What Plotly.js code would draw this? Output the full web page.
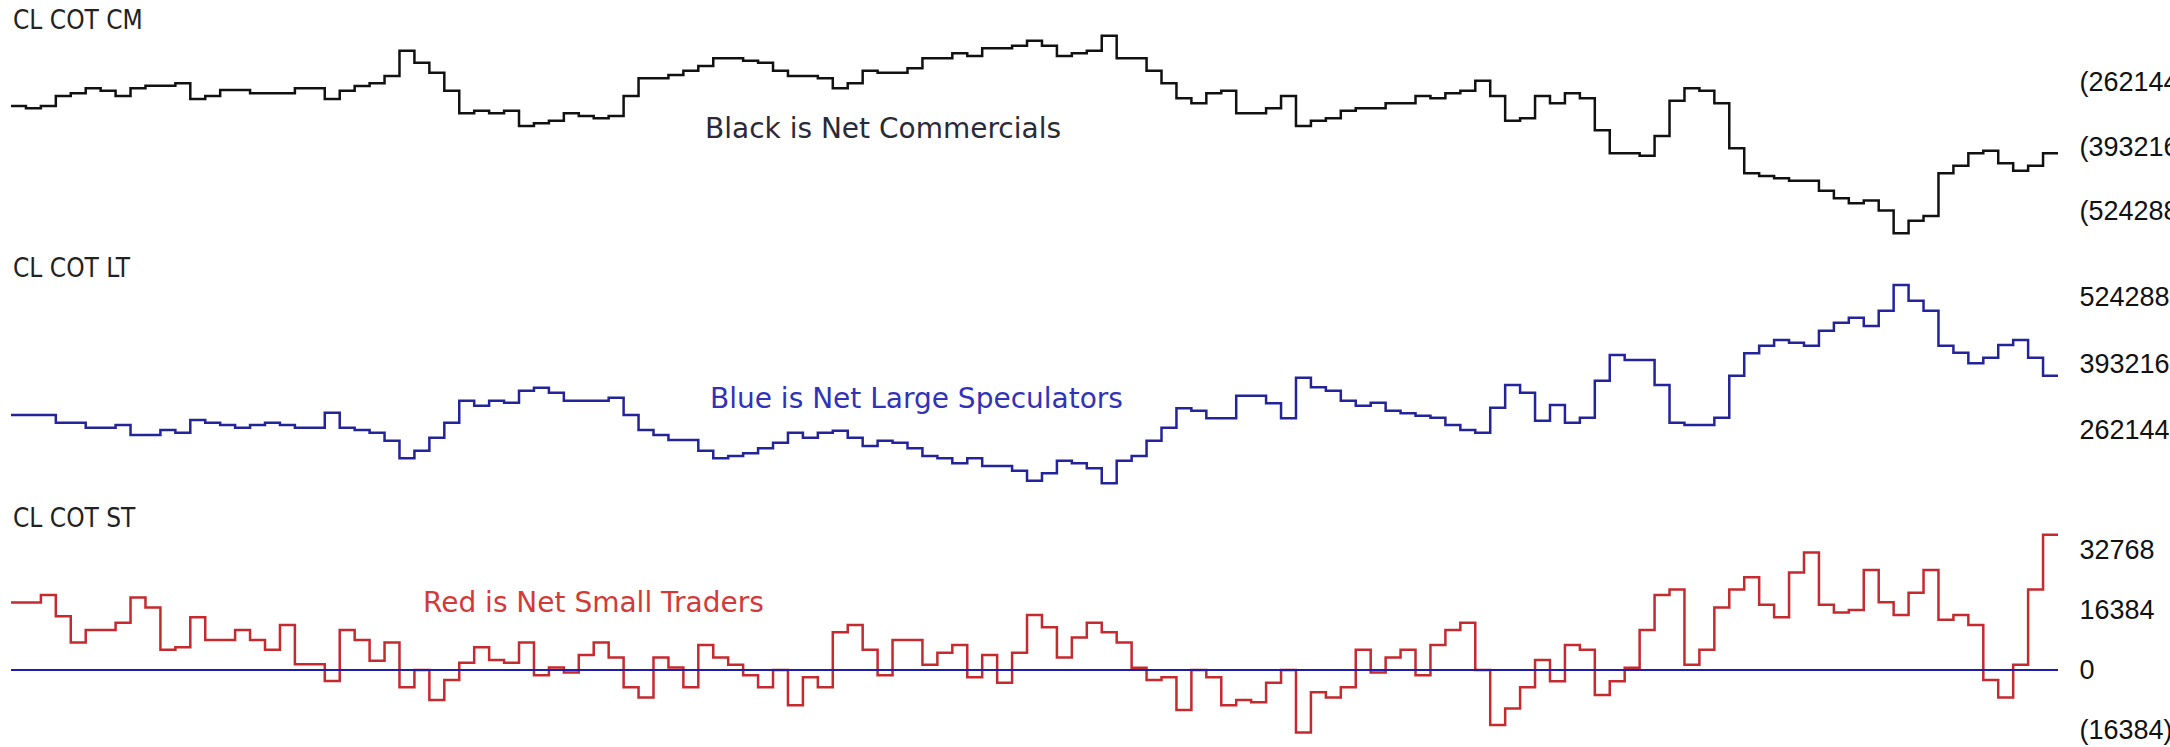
<!DOCTYPE html>
<html><head><meta charset="utf-8">
<script src="https://cdn.plot.ly/plotly-3.0.1.min.js"></script>
<style>html,body{margin:0;padding:0;background:#fff;} #chart{width:2170px;height:747px;}</style>
</head><body><div id="chart"></div>
<script>
// Weekly COT net positions, crude oil (CL)
const netCommercials = [
 -310900,-315600,-310900,-290600,-285100,-275000,-279700,-290600,-275000,-269600,
 -269600,-264800,-296700,-290600,-278400,-278400,-285100,-285100,-285100,-275000,
 -275000,-296700,-279700,-270300,-264800,-249900,-198500,-222800,-243200,-279700,
 -325800,-320400,-325800,-320400,-351500,-346100,-340700,-325800,-331200,-335900,
 -331200,-290600,-254700,-254700,-247900,-239100,-229600,-214000,-214000,-218800,
 -222800,-239100,-249900,-249900,-254700,-275000,-264800,-239100,-243200,-243200,
 -234300,-214000,-214000,-203900,-209300,-193700,-193700,-188300,-178100,-188300,
 -209300,-203900,-198500,-168000,-214000,-214000,-239100,-264800,-295300,-305500,
 -285100,-279700,-325800,-325800,-315600,-290600,-351500,-340700,-335900,-320400,
 -315600,-315600,-305500,-305500,-290600,-295300,-285100,-279700,-259400,-290600,
 -340700,-335900,-290600,-305500,-285100,-295300,-360300,-407100,-407100,-411800,
 -371800,-300000,-275000,-279700,-305500,-396900,-447700,-453100,-457900,-462600,
 -462600,-482900,-498500,-508700,-503200,-523500,-569600,-543900,-534400,-447700,
 -432100,-407100,-401600,-427400,-442300,-432100,-407100
];
const netLargeSpeculators = [
 291700,291700,291700,276600,276600,266700,266700,272000,252300,252300,
 262100,256900,281800,276600,272000,266700,272000,276600,272000,266700,
 266700,296300,266700,262100,256900,241100,206300,221400,247000,276600,
 319900,310100,319900,316000,339600,345600,335700,319900,319900,319900,
 325900,291700,262100,252300,242400,242400,221400,206300,210900,216100,
 226000,237200,256900,247000,256900,260800,247000,230600,241100,237200,
 226000,210900,206300,196400,206300,191200,191200,182000,162300,176700,
 201700,196400,186600,157000,201700,210900,241100,266700,304800,300200,
 285100,285100,329800,329800,314700,285100,365300,346200,339600,319900,
 310100,316000,300200,295000,290400,286400,272000,262100,256900,306100,
 350800,335700,280500,311400,276600,286400,359400,409900,400100,400100,
 350800,276600,272000,272000,286400,369200,413200,428300,439500,434300,
 428300,457900,473700,483500,467100,497300,547900,517000,497300,428300,
 414500,393500,404700,429700,439500,404700,369200
];
const netSmallTraders = [
 18400,18400,20500,14700,7500,10900,10900,12900,19800,17100,
 5500,6200,14400,8200,8200,10900,8200,5500,12300,1600,
 1600,-3000,10900,8200,2500,7500,-4700,0,-8200,-2700,
 2000,6200,2700,2000,7500,-1400,700,-700,4100,7500,
 3400,-4700,-7500,3400,700,-4700,6800,3400,1400,-1400,
 -4700,0,-9600,-2000,-4700,10300,12300,5500,-1400,8200,
 8200,1400,4700,6800,-2000,4100,-3500,4700,15000,11700,
 3400,8900,12900,10300,7500,600,-2700,-2000,-10900,0,
 -2000,-9600,-8200,-8800,-3500,0,-17100,-6100,-7500,-4700,
 5500,-700,3400,5500,-1400,6800,10900,12900,0,-15000,
 -10500,-4700,2700,-3100,6800,5500,-6800,-3100,600,10900,
 20500,22000,1400,5500,17100,22000,25300,17800,14400,26600,
 32100,17800,15700,16400,27300,18500,15000,21100,27300,13700,
 15000,12300,-2700,-7500,1400,22000,36900
];
const commercialTicks = [-262144, -393216, -524288];
const commercialTickText = ['(262144)', '(393216)', '(524288)'];
const largeSpecTicks = [524288, 393216, 262144];
const largeSpecTickText = ['524288', '393216', '262144'];
const smallTraderTicks = [32768, 16384, 0, -16384];
const smallTraderTickText = ['32768', '16384', '0', '(16384)'];
const panelTitles = ['CL COT CM', 'CL COT LT', 'CL COT ST'];
const seriesNotes = ['Black is Net Commercials', 'Blue is Net Large Speculators', 'Red is Net Small Traders'];

const W = 2170, H = 747, ML = 11, MR = 112;
const PW = W - ML - MR;
const n = netCommercials.length;
const weeks = Array.from({length: n + 1}, (_, i) => i);
const withEnd = a => a.concat([a[a.length - 1]]);
function rangeFor(v1, p1, v2, p2, top, bottom) {
  const k = (v2 - v1) / (p2 - p1);
  return [v1 + (bottom - p1) * k, v1 + (top - p1) * k];
}
const dom = (top, bottom) => [1 - bottom / H, 1 - top / H];
const px = x => (x - ML) / PW;
const py = y => 1 - y / H;

const tickFont = {family: 'Liberation Sans, Arial, sans-serif', size: 27, color: '#111'};
function yax(domain, range, tv, tt) {
  return {domain: domain, range: range, side: 'right', anchor: 'x', showgrid: false, zeroline: false,
    showline: false, tickmode: 'array', tickvals: tv, ticktext: tt, ticks: 'outside', ticklen: 15,
    tickcolor: 'rgba(0,0,0,0)', tickfont: tickFont, fixedrange: true};
}

const traces = [
  {x: weeks, y: withEnd(netCommercials), type: 'scatter', mode: 'lines', yaxis: 'y',
   line: {shape: 'hv', color: '#111111', width: 2.5}, hoverinfo: 'skip'},
  {x: weeks, y: withEnd(netLargeSpeculators), type: 'scatter', mode: 'lines', yaxis: 'y2',
   line: {shape: 'hv', color: '#23239a', width: 2.5}, hoverinfo: 'skip'},
  {x: weeks, y: withEnd(netSmallTraders), type: 'scatter', mode: 'lines', yaxis: 'y3',
   line: {shape: 'hv', color: '#c42a2e', width: 2.5}, hoverinfo: 'skip'}
];

const titleFont = {family: 'DejaVu Sans Condensed, Liberation Sans, Arial, sans-serif', size: 26, color: '#222'};
const noteFont = c => ({family: 'DejaVu Sans, Verdana, sans-serif', size: 28, color: c});
const annotations = [
  {text: panelTitles[0], x: px(11), y: py(20), font: titleFont},
  {text: panelTitles[1], x: px(11), y: py(268), font: titleFont},
  {text: panelTitles[2], x: px(11), y: py(518), font: titleFont},
  {text: seriesNotes[0], x: px(703), y: py(128), font: noteFont('#2a2a36')},
  {text: seriesNotes[1], x: px(708), y: py(398), font: noteFont('#3232b8')},
  {text: seriesNotes[2], x: px(421), y: py(602), font: noteFont('#d23a3a')}
].map(a => Object.assign({xref: 'paper', yref: 'paper', xanchor: 'left', yanchor: 'middle', showarrow: false}, a));

const layout = {
  width: W, height: H, margin: {l: ML, r: MR, t: 0, b: 0}, showlegend: false,
  paper_bgcolor: '#ffffff', plot_bgcolor: '#ffffff',
  xaxis: {range: [0, n], visible: false, fixedrange: true},
  yaxis: yax(dom(0, 250), rangeFor(-262144, 82, -524288, 211, 0, 250), commercialTicks, commercialTickText),
  yaxis2: yax(dom(255, 500), rangeFor(524288, 297, 262144, 430, 255, 500), largeSpecTicks, largeSpecTickText),
  yaxis3: yax(dom(505, 747), rangeFor(0, 670, 16384, 610, 505, 747), smallTraderTicks, smallTraderTickText),
  shapes: [{type: 'line', xref: 'x', yref: 'y3', x0: 0, x1: n, y0: 0, y1: 0,
    line: {color: '#1c1cb0', width: 2.2}, layer: 'above'}],
  annotations: annotations
};
Plotly.newPlot('chart', traces, layout, {displayModeBar: false, staticPlot: true});
</script></body></html>
